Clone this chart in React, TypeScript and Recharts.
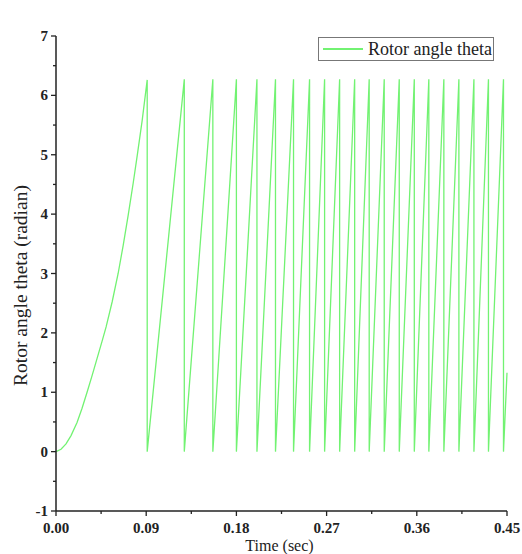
import { LineChart, Line, XAxis, YAxis } from 'recharts';

// startup: rotor accelerates from rest up to the first 2*pi wrap
const startupTime = [
  0, 0.005, 0.01, 0.015, 0.021, 0.026, 0.031, 0.036, 0.041, 0.046, 0.05,
  0.056, 0.062, 0.067, 0.072, 0.077, 0.081, 0.086, 0.091,
];
const startupTheta = [
  0, 0.04, 0.13, 0.27, 0.49, 0.73, 1.0, 1.28, 1.57, 1.86, 2.1,
  2.52, 3.0, 3.47, 3.98, 4.52, 4.98, 5.58, 6.26,
];

// times where theta resets from 2*pi back to 0
const wrapTime = [
  0.091, 0.128, 0.1565, 0.18, 0.2005, 0.219, 0.237, 0.253, 0.268, 0.283, 0.298,
  0.3125, 0.3275, 0.3425, 0.3575, 0.372, 0.387, 0.402, 0.417, 0.4315, 0.4465,
];
const wrapTheta = [
  6.26, 6.27, 6.27, 6.27, 6.27, 6.27, 6.27, 6.27, 6.27, 6.27, 6.27,
  6.27, 6.27, 6.27, 6.27, 6.27, 6.27, 6.27, 6.27, 6.27, 6.27,
];
const endTime = [0.45];
const endTheta = [1.33];

const xTicks = [0, 0.045, 0.09, 0.135, 0.18, 0.225, 0.27, 0.315, 0.36, 0.405, 0.45];
const xMajor = [0, 0.09, 0.18, 0.27, 0.36, 0.45];
const yTicks = [-1, -0.5, 0, 0.5, 1, 1.5, 2, 2.5, 3, 3.5, 4, 4.5, 5, 5.5, 6, 6.5, 7];

const data: { t: number; theta: number }[] = [];
startupTime.forEach((t, i) => data.push({ t, theta: startupTheta[i] }));
wrapTime.forEach((t, i) => {
  if (i > 0) data.push({ t, theta: wrapTheta[i] });
  data.push({ t, theta: 0 });
});
endTime.forEach((t, i) => data.push({ t, theta: endTheta[i] }));

const FONT = '"Liberation Serif", "DejaVu Serif", serif';
const AXIS = '#222';
const GREEN = '#72f272';

const isMajorX = (v: number) => xMajor.some((m) => Math.abs(m - v) < 1e-9);
const isMajorY = (v: number) => Number.isInteger(v);

const XTick = (props: any) => {
  const { x, y, payload } = props;
  const major = isMajorX(payload.value);
  return (
    <g>
      <line x1={x} x2={x} y1={y} y2={y + (major ? 5 : 3)} stroke={AXIS} strokeWidth={1.3} />
      {major && (
        <text x={x} y={y + 22} textAnchor="middle" fontFamily={FONT} fontWeight="bold" fontSize={15} fill="#222">
          {payload.value.toFixed(2)}
        </text>
      )}
    </g>
  );
};

const YTick = (props: any) => {
  const { x, y, payload } = props;
  const major = isMajorY(payload.value);
  return (
    <g>
      <line x1={x} x2={x - (major ? 5 : 3)} y1={y} y2={y} stroke={AXIS} strokeWidth={1.3} />
      {major && (
        <text x={x - 8} y={y + 5} textAnchor="end" fontFamily={FONT} fontWeight="bold" fontSize={15} fill="#222">
          {payload.value}
        </text>
      )}
    </g>
  );
};

export default function App() {
  return (
    <div style={{ position: 'fixed', left: 0, top: 0, width: 522, height: 554, overflow: 'hidden', background: '#fff' }}>
      <LineChart width={522} height={554} data={data} margin={{ top: 36, right: 15, bottom: 0, left: 0 }}>
        <XAxis
          dataKey="t"
          type="number"
          domain={[0, 0.45]}
          ticks={xTicks}
          interval={0}
          height={43}
          tickSize={0}
          tickMargin={0}
          tickLine={false}
          tick={<XTick />}
          stroke={AXIS}
          strokeWidth={1.5}
          label={(p: any) => (
            <text
              x={p.viewBox.x + p.viewBox.width / 2 - 2}
              y={551}
              textAnchor="middle"
              fontFamily={FONT}
              fontSize={16}
              fill="#222"
            >
              Time (sec)
            </text>
          )}
        />
        <YAxis
          type="number"
          domain={[-1, 7]}
          ticks={yTicks}
          interval={0}
          width={56}
          tickSize={0}
          tickMargin={0}
          tickLine={false}
          tick={<YTick />}
          stroke={AXIS}
          strokeWidth={1.5}
          label={(p: any) => {
            const cy = p.viewBox.y + p.viewBox.height / 2 + 12;
            return (
              <text
                x={27}
                y={cy}
                transform={`rotate(-90 27 ${cy})`}
                textAnchor="middle"
                fontFamily={FONT}
                fontSize={19.5}
                fill="#222"
              >
                Rotor angle theta (radian)
              </text>
            );
          }}
        />
        <Line
          type="linear"
          dataKey="theta"
          stroke={GREEN}
          strokeWidth={1.3}
          dot={false}
          isAnimationActive={false}
        />
      </LineChart>
      <div
        style={{
          position: 'absolute',
          left: 318,
          top: 37,
          border: '1px solid #777',
          width: 174,
          height: 22,
          display: 'flex',
          alignItems: 'center',
          fontFamily: FONT,
          fontSize: 18,
          whiteSpace: 'nowrap',
          color: '#222',
          background: '#fff',
        }}
      >
        <span style={{ display: 'inline-block', width: 40, height: 1.5, background: GREEN, marginLeft: 4, marginRight: 5 }} />
        Rotor angle theta
      </div>
    </div>
  );
}
